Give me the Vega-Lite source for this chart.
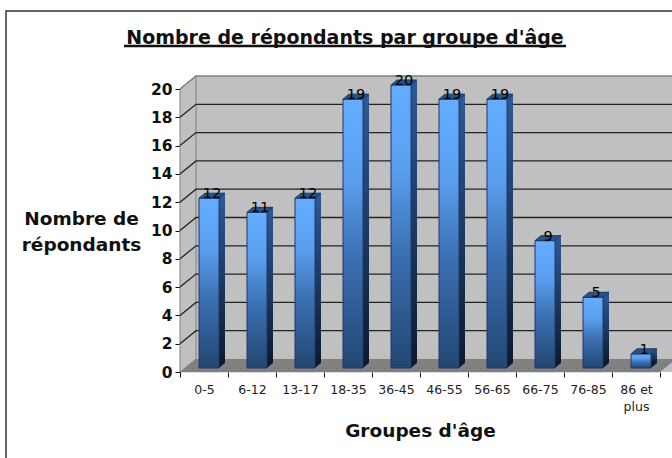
{
"$schema":"https://vega.github.io/schema/vega-lite/v6.json",
"width":480,"height":283,
"autosize":{"type":"none"},
"padding":{"left":180,"top":89,"right":12,"bottom":86},
"background":"white",
"config":{"axis":{"labelOverlap":false,"labelBound":false}},
"datasets":{
"ages":[{"age":"0-5","n":12},{"age":"6-12","n":11},{"age":"13-17","n":12},{"age":"18-35","n":19},{"age":"36-45","n":20},{"age":"46-55","n":19},{"age":"56-65","n":19},{"age":"66-75","n":9},{"age":"76-85","n":5},{"age":"86 et plus","n":1}],
"ticks":[{"v":2},{"v":4},{"v":6},{"v":8},{"v":10},{"v":12},{"v":14},{"v":16},{"v":18}]
},
"data":{"name":"ages"},
"encoding":{
"x":{"field":"age","type":"nominal","sort":null,"scale":{"domain":["0-5","6-12","13-17","18-35","36-45","46-55","56-65","66-75","76-85","86 et plus"],"padding":0},
"axis":{"title":"Groupes d'âge","titleFont":"DejaVu Sans","titleFontSize":18.5,"titleFontWeight":"bold","titleColor":"#111","titleX":240,"titleY":49,"labelAngle":0,"labelFont":"DejaVu Sans","labelFontSize":12.5,"labelColor":"#222","labelPadding":6,"labelOverlap":false,"labelExpr":"datum.label=='86 et plus'?['86 et','plus']:datum.label","labelLineHeight":17,"bandPosition":0.5,"tickBand":"extent","tickSize":5,"tickColor":"#111","domain":false}}
},
"layer":[
{"mark":{"type":"bar","fill":"#c0c0c0","xOffset":16,"yOffset":-13,"y2Offset":-13},"encoding":{"y":{"datum":20,"type":"quantitative","scale":{"domain":[0,20],"nice":false},"axis":{"values":[0,2,4,6,8,10,12,14,16,18,20],"tickCount":11,"format":"d","title":["Nombre de","répondants"],"grid":false,"titleAngle":0,"titleFont":"DejaVu Sans","titleFontSize":18.5,"titleFontWeight":"bold","titleColor":"#111","titleX":-99,"titleY":139,"titleAlign":"center","titleLineHeight":26,"labelOverlap":false,"labelFont":"DejaVu Sans","labelFontSize":15.5,"labelFontWeight":"bold","labelColor":"#111","tickColor":"#111","tickSize":5,"domainColor":"#222","labelPadding":3}}}},
{"data":{"values":[{"v":20}]},"mark":{"type":"point","filled":false,"size":4,"opacity":1,"shape":"M-174,372L-174,-78L492,-78","stroke":"#333","strokeWidth":1.5},"encoding":{"x":{"datum":"0-5","bandPosition":0},"y":{"field":"v","type":"quantitative"}}},
{"data":{"values":[{"v":0}]},"mark":{"type":"point","filled":true,"size":4,"opacity":1,"shape":"M0,0L16,-13L16,-296L0,-283Z","fill":"#c0c0c0","stroke":"#808080","strokeWidth":1},"encoding":{"x":{"datum":"0-5","bandPosition":0},"y":{"field":"v","type":"quantitative"}}},
{"data":{"values":[{"v":0}]},"mark":{"type":"point","filled":true,"size":4,"opacity":1,"shape":"M0,0L16,-13L496,-13L480,0Z","fill":"#808080"},"encoding":{"x":{"datum":"0-5","bandPosition":0},"y":{"field":"v","type":"quantitative"}}},
{"data":{"values":[{"v":20}]},"mark":{"type":"point","filled":false,"size":4,"opacity":1,"shape":"M0,0L16,-13L496,-13","stroke":"#808080","strokeWidth":1.5},"encoding":{"x":{"datum":"0-5","bandPosition":0},"y":{"field":"v","type":"quantitative"}}},
{"data":{"name":"ticks"},"mark":{"type":"point","filled":false,"size":4,"opacity":1,"shape":"M0,0L16,-13L496,-13","stroke":"#222","strokeWidth":1.3},"encoding":{"x":{"datum":"0-5","bandPosition":0},"y":{"field":"v","type":"quantitative"}}},
{"mark":{"type":"bar","width":6,"xOffset":18,"yOffset":-9,"y2Offset":-9,"fill":{"gradient":"linear","x1":0,"y1":0,"x2":0,"y2":1,"stops":[{"offset":0,"color":"#2d5a96"},{"offset":1,"color":"#0c1a2e"}]}},"encoding":{"y":{"field":"n","type":"quantitative"}}},
{"mark":{"type":"point","filled":true,"size":4,"opacity":1,"shape":"M15,-4L21,-9L15,-9Z","fill":"#0c1a2e"},"encoding":{"y":{"datum":0,"type":"quantitative"}}},
{"mark":{"type":"bar","width":20,"xOffset":5,"yOffset":-4,"y2Offset":-4,"stroke":"#1c3a66","strokeWidth":1,"fill":{"gradient":"linear","x1":0,"y1":0,"x2":0,"y2":1,"stops":[{"offset":0,"color":"#66adff"},{"offset":0.3,"color":"#5a9ef0"},{"offset":0.6,"color":"#3a6fb0"},{"offset":1,"color":"#234673"}]}},"encoding":{"y":{"field":"n","type":"quantitative"}}},
{"mark":{"type":"point","filled":true,"size":4,"opacity":1,"shape":"M-5,-4L1,-9L21,-9L15,-4Z","fill":"#2a5287","stroke":"#1c3a66","strokeWidth":1},"encoding":{"y":{"field":"n","type":"quantitative"}}},
{"mark":{"type":"text","font":"DejaVu Sans","fontSize":14.5,"color":"#000","dx":8,"dy":-4,"baseline":"alphabetic","align":"center"},"encoding":{"y":{"field":"n","type":"quantitative"},"text":{"field":"n","type":"quantitative"}}},
{"data":{"values":[{"t":"Nombre de répondants par groupe d'âge"}]},"mark":{"type":"text","font":"DejaVu Sans","fontSize":19,"fontWeight":"bold","color":"#111","dx":-3,"dy":-45,"baseline":"alphabetic","align":"center"},"encoding":{"x":{"datum":"18-35","bandPosition":0.5},"y":{"datum":20,"type":"quantitative"},"text":{"field":"t"}}},
{"data":{"values":[{"v":20}]},"mark":{"type":"point","filled":false,"size":4,"opacity":1,"shape":"M-80,-43L362,-43","stroke":"#111","strokeWidth":2.5},"encoding":{"x":{"datum":"0-5","bandPosition":0.5},"y":{"field":"v","type":"quantitative"}}}
]
}
